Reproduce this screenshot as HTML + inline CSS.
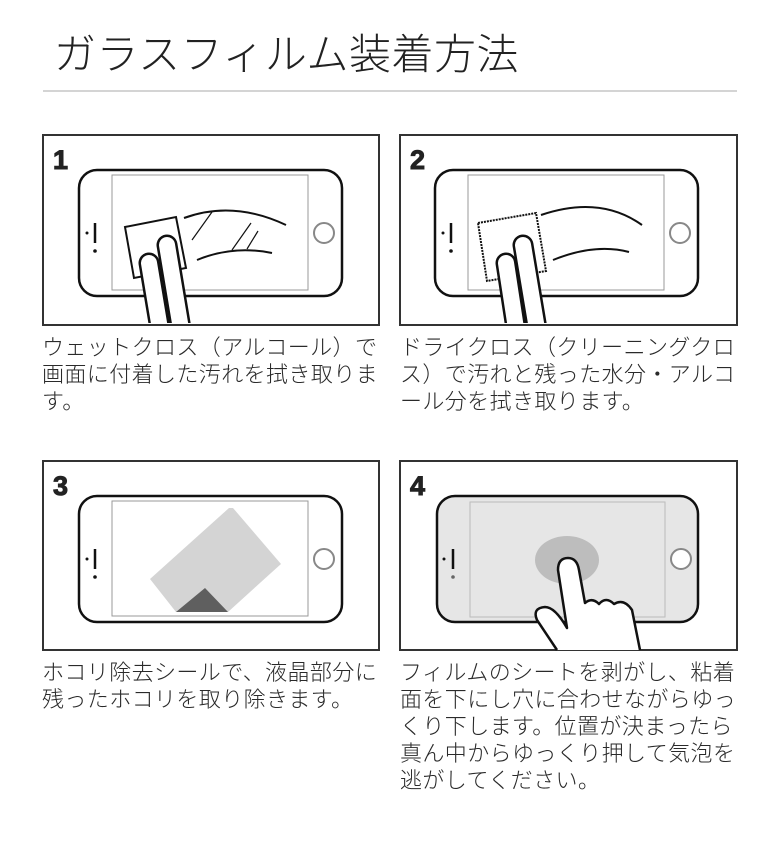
<!DOCTYPE html>
<html><head><meta charset="utf-8"><style>
html,body{margin:0;padding:0;background:#fff;}
body{width:780px;height:843px;position:relative;overflow:hidden;font-family:"Liberation Sans","Noto Sans CJK JP",sans-serif;}
.t{position:absolute;font-size:22px;line-height:27px;color:#2a2a2a;letter-spacing:0.4px;white-space:nowrap;font-weight:300;}
h1{position:absolute;left:54px;top:30px;margin:0;font-size:42px;font-weight:300;color:#222;line-height:50px;letter-spacing:0.5px;}
.n{font-family:"Liberation Sans",sans-serif;font-weight:bold;font-size:27px;fill:#222;stroke:#222;stroke-width:1;}
</style></head><body>
<h1>ガラスフィルム装着方法</h1>
<svg width="780" height="843" style="position:absolute;left:0;top:0" xmlns="http://www.w3.org/2000/svg">
<defs>
<g id="phone">
<rect x="36" y="35" width="263" height="126" rx="18" fill="#fff" stroke="#111" stroke-width="2.5"/>
<rect x="69" y="40" width="196" height="115" fill="#fff" stroke="#999" stroke-width="1"/>
<circle cx="281" cy="98" r="10" fill="#fff" stroke="#888" stroke-width="2"/>
<circle cx="44" cy="98" r="1.5" fill="#111"/>
<line x1="52" y1="88" x2="52" y2="108" stroke="#111" stroke-width="2.5"/>
<circle cx="52" cy="116" r="1.8" fill="#111"/>
</g>
<clipPath id="c1"><rect x="0" y="0" width="335" height="188"/></clipPath>
</defs>
<line x1="43" y1="91" x2="737" y2="91" stroke="#aaa" stroke-width="1"/>

<g transform="translate(43,135)">
<rect x="0" y="0" width="336" height="190" fill="#fff" stroke="#333" stroke-width="2"/>
<text x="10" y="34" class="n">1</text>
<use href="#phone"/>
<g fill="none" stroke="#111" stroke-width="2">
<path d="M141 83 Q190 65 243 90"/><path d="M154 125 Q190 110 229 118"/>
<line x1="149" y1="105" x2="169" y2="77" stroke-width="1.2"/>
<line x1="189" y1="115" x2="208" y2="88" stroke-width="1.2"/>
<line x1="204" y1="114" x2="215" y2="96" stroke-width="1.2"/>
</g>
<g clip-path="url(#c1)">
<polygon points="82,92 133,82 143,133 91,143" fill="#fff" stroke="#111" stroke-width="2"/>
<line x1="124" y1="110" x2="139" y2="200" stroke="#111" stroke-width="21" stroke-linecap="round"/>
<line x1="124" y1="110" x2="139" y2="200" stroke="#fff" stroke-width="16" stroke-linecap="round"/>
<line x1="106" y1="128" x2="118" y2="200" stroke="#111" stroke-width="21" stroke-linecap="round"/>
<line x1="106" y1="128" x2="118" y2="200" stroke="#fff" stroke-width="16" stroke-linecap="round"/>
</g>
</g>

<g transform="translate(400,135)">
<rect x="0" y="0" width="337" height="190" fill="#fff" stroke="#333" stroke-width="2"/>
<text x="10" y="34" class="n">2</text>
<use href="#phone" transform="translate(-1,0)"/>
<g fill="none" stroke="#111" stroke-width="2">
<path d="M141 80 Q200 60 242 90"/><path d="M153 125 Q195 108 229 117"/>
</g>
<g clip-path="url(#c1)">
<polygon points="78,88 136,78 146,136 87,146" fill="#fff" stroke="#111" stroke-width="2" stroke-dasharray="2 1"/>
<line x1="123" y1="110" x2="138" y2="200" stroke="#111" stroke-width="21" stroke-linecap="round"/>
<line x1="123" y1="110" x2="138" y2="200" stroke="#fff" stroke-width="16" stroke-linecap="round"/>
<line x1="106" y1="128" x2="117" y2="200" stroke="#111" stroke-width="21" stroke-linecap="round"/>
<line x1="106" y1="128" x2="117" y2="200" stroke="#fff" stroke-width="16" stroke-linecap="round"/>
</g>
</g>

<g transform="translate(43,461)">
<rect x="0" y="0" width="336" height="189" fill="#fff" stroke="#333" stroke-width="2"/>
<text x="10" y="34" class="n">3</text>
<use href="#phone"/>
<polygon points="190,47 238,103 228,112 185,151 133,151 107,118 186,47" fill="#d4d4d4"/>
<polygon points="133,151 162,127 185,151" fill="#5f5f5f"/>
<rect x="69" y="40" width="196" height="115" fill="none" stroke="#999" stroke-width="1"/>
</g>

<g transform="translate(400,461)">
<rect x="0" y="0" width="337" height="189" fill="#fff" stroke="#333" stroke-width="2"/>
<text x="10" y="34" class="n">4</text>
<rect x="37" y="35" width="261" height="126" rx="18" fill="#e6e6e6" stroke="#111" stroke-width="2.5"/>
<rect x="70" y="41" width="195" height="115" fill="#e6e6e6" stroke="#bbb" stroke-width="1"/>
<circle cx="281" cy="98" r="10" fill="#fff" stroke="#888" stroke-width="2"/>
<circle cx="44" cy="98" r="1.5" fill="#111"/>
<line x1="53" y1="88" x2="53" y2="108" stroke="#111" stroke-width="2.5"/>
<circle cx="53" cy="116" r="1.8" fill="#666"/>
<ellipse cx="167" cy="99" rx="32" ry="24" fill="#bdbdbd"/>
</g>
<path d="M557 650 L537 620 Q532 608 545 607 Q555 607 567 628 L558 570 Q558 558 568 558 Q577 558 579 570 L585 603 Q592 597 599 604 Q606 596 614 604 Q624 598 632 610 L640 650" fill="#fff" stroke="#111" stroke-width="2.5" stroke-linejoin="round"/>
</svg>

<div class="t" style="left:42px;top:334px">ウェットクロス（アルコール）で<br>画面に付着した汚れを拭き取りま<br>す。</div>
<div class="t" style="left:400px;top:334px">ドライクロス（クリーニングクロ<br>ス）で汚れと残った水分・アルコ<br>ール分を拭き取ります。</div>
<div class="t" style="left:42px;top:659px">ホコリ除去シールで、液晶部分に<br>残ったホコリを取り除きます。</div>
<div class="t" style="left:400px;top:659px">フィルムのシートを剥がし、粘着<br>面を下にし穴に合わせながらゆっ<br>くり下します。位置が決まったら<br>真ん中からゆっくり押して気泡を<br>逃がしてください。</div>
</body></html>
